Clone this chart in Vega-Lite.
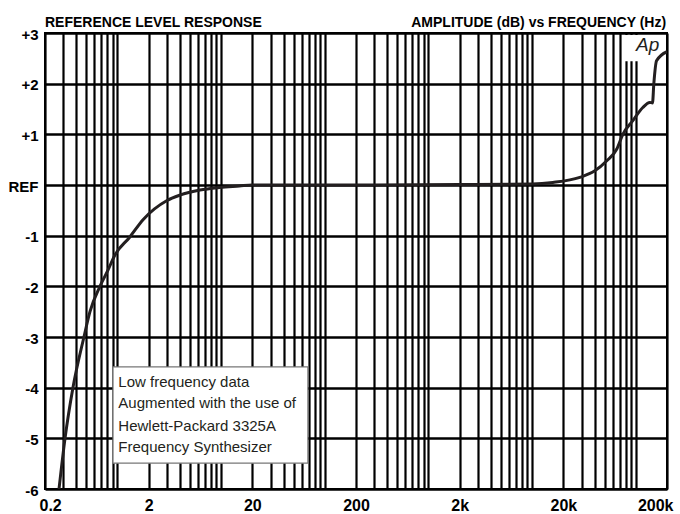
{
  "$schema": "https://vega.github.io/schema/vega-lite/v6.json",
  "width": 622,
  "height": 456,
  "autosize": {"type": "none"},
  "padding": {"left": 45, "top": 33, "right": 13, "bottom": 25},
  "background": "white",
  "config": {
    "view": {"stroke": "black", "strokeWidth": 2},
    "font": "Liberation Sans, Arial, sans-serif"
  },
  "datasets": {
    "curve": [
      {"f": 0.273, "db": -6},
      {"f": 0.312, "db": -5},
      {"f": 0.372, "db": -4},
      {"f": 0.475, "db": -3},
      {"f": 0.543, "db": -2.5},
      {"f": 0.678, "db": -2},
      {"f": 0.81, "db": -1.68},
      {"f": 0.946, "db": -1.38},
      {"f": 1.3, "db": -1.04},
      {"f": 1.774, "db": -0.68},
      {"f": 2.98, "db": -0.31},
      {"f": 4.0, "db": -0.2},
      {"f": 6.25, "db": -0.1},
      {"f": 9.7, "db": -0.05},
      {"f": 15, "db": -0.02},
      {"f": 20, "db": 0},
      {"f": 200, "db": 0},
      {"f": 2000, "db": 0.01},
      {"f": 10000, "db": 0.02},
      {"f": 15850, "db": 0.05},
      {"f": 28850, "db": 0.15},
      {"f": 40260, "db": 0.28},
      {"f": 52500, "db": 0.48},
      {"f": 65600, "db": 0.71},
      {"f": 75000, "db": 1.0},
      {"f": 93600, "db": 1.27},
      {"f": 116900, "db": 1.53},
      {"f": 136500, "db": 1.63},
      {"f": 144900, "db": 1.62},
      {"f": 149300, "db": 2.0},
      {"f": 158500, "db": 2.45},
      {"f": 200000, "db": 2.63}
    ],
    "notebox": [{"f": 0.906, "f2": 68.7, "db": -3.59, "db2": -5.49}],
    "logobox": [{"f": 74000, "f2": 190000, "db": 2.44, "db2": 2.96}],
    "notes": [
      {"f": 1.02, "db": -3.98, "label": "Low frequency data"},
      {"f": 1.02, "db": -4.4, "label": "Augmented with the use of"},
      {"f": 1.02, "db": -4.85, "label": "Hewlett-Packard 3325A"},
      {"f": 1.02, "db": -5.26, "label": "Frequency Synthesizer"}
    ],
    "titleLeft": [{"f": 0.2, "db": 3.124, "label": "REFERENCE LEVEL RESPONSE"}],
    "titleRight": [{"f": 196000, "db": 3.124, "label": "AMPLITUDE (dB) vs FREQUENCY (Hz)"}],
    "logo": [{"f": 130000, "db": 2.76, "label": "Ap"}]
  },
  "encoding": {
    "x": {
      "field": "f",
      "type": "quantitative",
      "scale": {"type": "log", "domain": [0.2, 200000], "nice": false},
      "axis": {
        "title": null,
        "values": [0.2, 0.3, 0.4, 0.5, 0.6, 0.7, 0.8, 0.9, 1, 2, 3, 4, 5, 6, 7, 8, 9, 10, 20, 30, 40, 50, 60, 70, 80, 90, 100, 200, 300, 400, 500, 600, 700, 800, 900, 1000, 2000, 3000, 4000, 5000, 6000, 7000, 8000, 9000, 10000, 20000, 30000, 40000, 50000, 60000, 70000, 80000, 90000, 100000, 200000],
        "labelExpr": "datum.value==0.2?'0.2':datum.value==2?'2':datum.value==20?'20':datum.value==200?'200':datum.value==2000?'2k':datum.value==20000?'20k':datum.value==200000?'200k':''",
        "grid": true,
        "gridColor": "black",
        "gridWidth": 2.2,
        "gridOpacity": 1,
        "ticks": false,
        "domain": false,
        "labelFlush": true,
        "labelFlushOffset": 6,
        "labelOverlap": false,
        "labelBound": false,
        "labelFontSize": 16,
        "labelFontWeight": "bold",
        "labelColor": "black",
        "labelPadding": 8,
        "labelBaseline": "top"
      }
    },
    "y": {
      "field": "db",
      "type": "quantitative",
      "scale": {"domain": [-6, 3], "nice": false, "zero": false},
      "axis": {
        "title": null,
        "values": [-6, -5, -4, -3, -2, -1, 0, 1, 2, 3],
        "labelExpr": "datum.value==0?'REF':(datum.value>0?'+'+datum.value:''+datum.value)",
        "grid": true,
        "gridColor": "black",
        "gridWidth": 2.7,
        "gridOpacity": 1,
        "ticks": false,
        "domain": false,
        "labelOverlap": false,
        "labelFlush": false,
        "labelFontSize": 15,
        "labelFontWeight": "bold",
        "labelColor": "black",
        "labelPadding": 7,
        "labelBaseline": "middle",
        "labelOffset": 1
      }
    }
  },
  "layer": [
    {
      "data": {"name": "notebox"},
      "mark": {"type": "rect", "fill": "white", "stroke": "#777777", "strokeWidth": 1.2},
      "encoding": {"x2": {"field": "f2"}, "y2": {"field": "db2"}}
    },
    {
      "data": {"name": "logobox"},
      "mark": {"type": "rect", "fill": "white", "strokeWidth": 0},
      "encoding": {"x2": {"field": "f2"}, "y2": {"field": "db2"}}
    },
    {
      "data": {"name": "curve"},
      "mark": {"type": "line", "color": "#231f20", "strokeWidth": 3, "interpolate": "monotone", "clip": true}
    },
    {
      "data": {"name": "notes"},
      "mark": {"type": "text", "align": "left", "baseline": "alphabetic", "fontSize": 15, "color": "#231f20"},
      "encoding": {"text": {"field": "label"}}
    },
    {
      "data": {"name": "titleLeft"},
      "mark": {"type": "text", "align": "left", "baseline": "alphabetic", "fontSize": 14, "fontWeight": "bold", "color": "black"},
      "encoding": {"text": {"field": "label"}}
    },
    {
      "data": {"name": "titleRight"},
      "mark": {"type": "text", "align": "right", "baseline": "alphabetic", "fontSize": 14, "fontWeight": "bold", "color": "black"},
      "encoding": {"text": {"field": "label"}}
    },
    {
      "data": {"name": "logo"},
      "mark": {"type": "text", "align": "center", "baseline": "middle", "fontSize": 19, "fontStyle": "italic", "color": "#231f20"},
      "encoding": {"text": {"field": "label"}}
    }
  ]
}
